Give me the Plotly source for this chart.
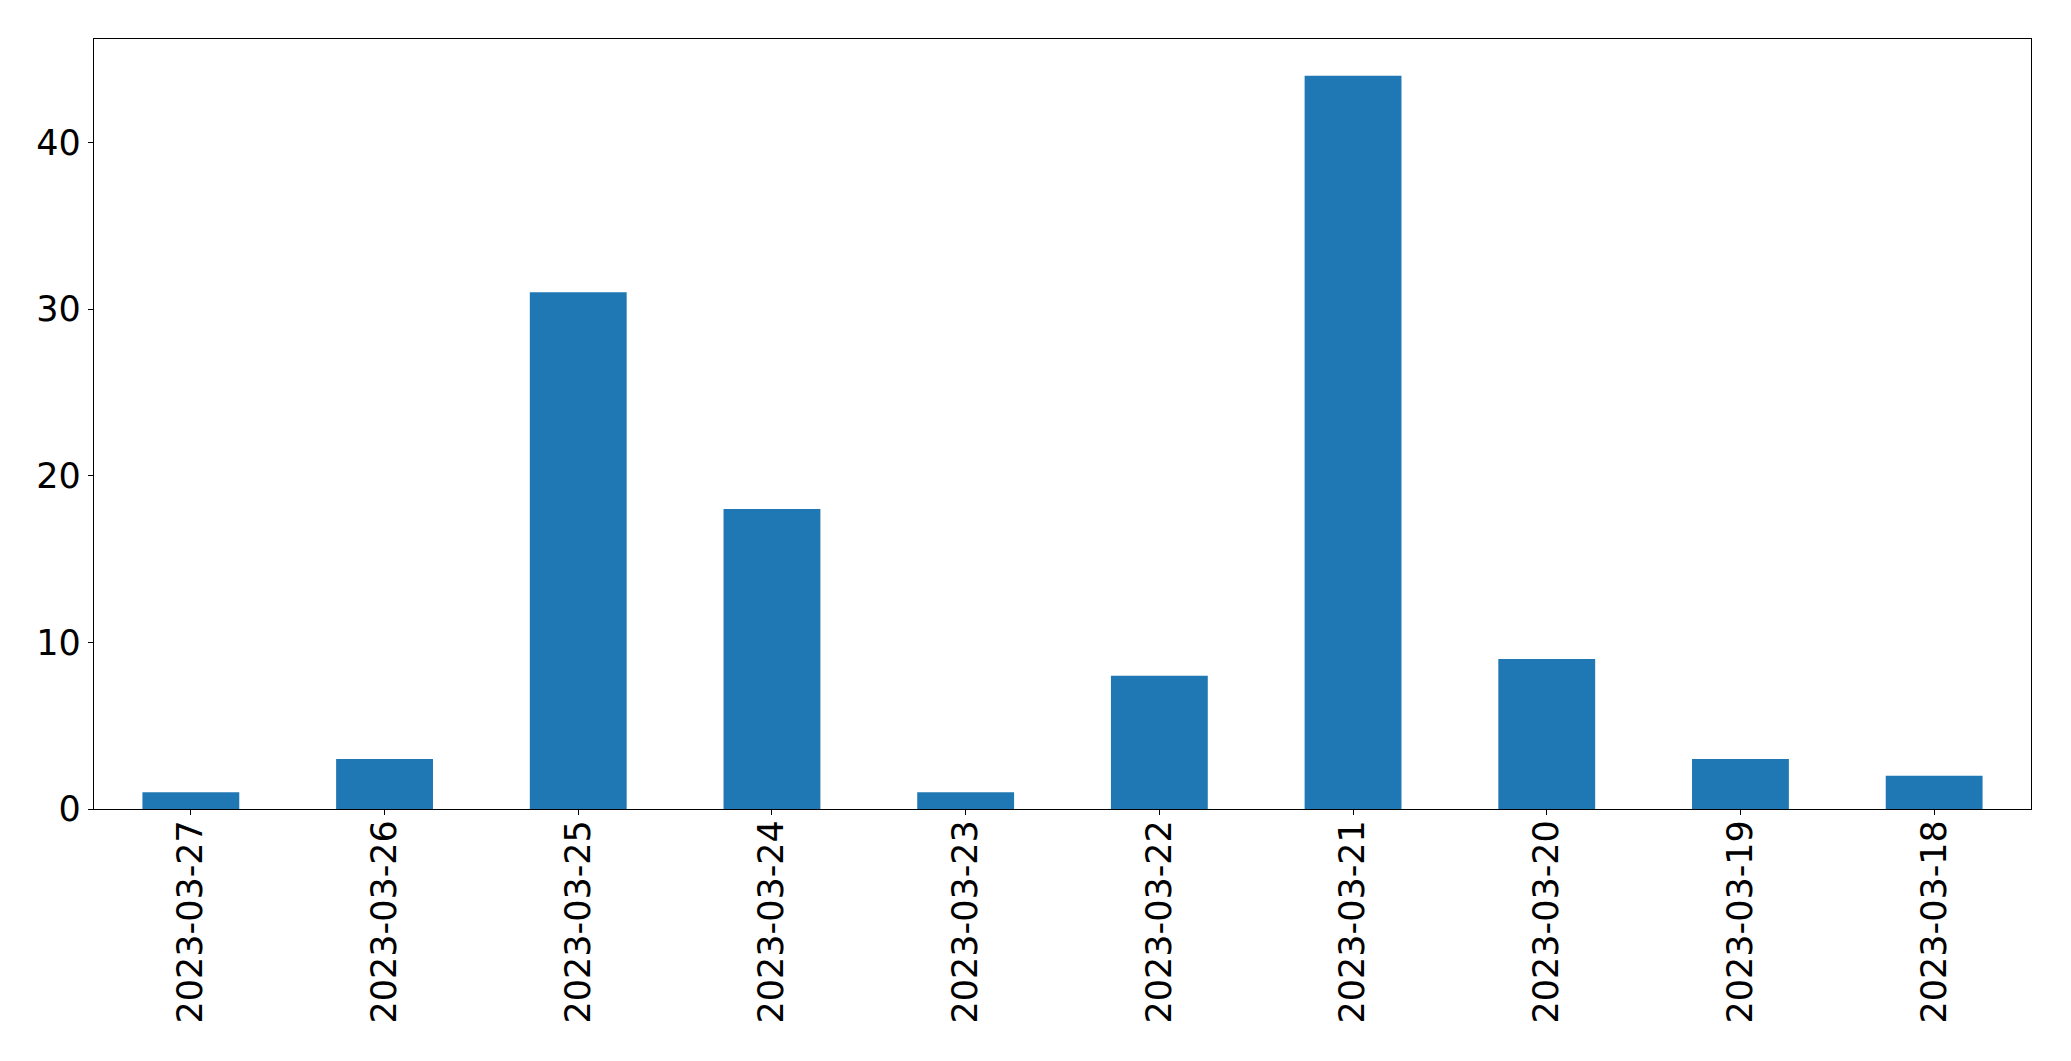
import plotly.graph_objects as go

dates = ["2023-03-27", "2023-03-26", "2023-03-25", "2023-03-24", "2023-03-23",
         "2023-03-22", "2023-03-21", "2023-03-20", "2023-03-19", "2023-03-18"]
counts = [1, 3, 31, 18, 1, 8, 44, 9, 3, 2]
y_ticks = [0, 10, 20, 30, 40]

fig = go.Figure(go.Bar(x=dates, y=counts, width=0.5, marker_color="#1f77b4",
                       marker_line_width=0))

font = dict(family="DejaVu Sans", size=35, color="black")
fig.update_layout(
    width=2063, height=1053,
    margin=dict(l=86, r=40, t=31, b=252, pad=0),
    plot_bgcolor="white", paper_bgcolor="white",
    showlegend=False,
    font=font,
)
fig.update_xaxes(type="category", range=[-0.5, 9.5], tickangle=-90,
                 showline=True, mirror=True, linecolor="black", linewidth=1.3,
                 ticks="outside", ticklen=5, tickcolor="black", tickwidth=1.3,
                 showgrid=False, zeroline=False, tickfont=font,
                 ticklabelstandoff=-9)
fig.update_yaxes(range=[0, 46.2], tickvals=y_ticks,
                 showline=True, mirror=True, linecolor="black", linewidth=1.3,
                 ticks="outside", ticklen=5, tickcolor="black", tickwidth=1.3,
                 showgrid=False, zeroline=False, tickfont=font)

fig.write_html("out.html")
